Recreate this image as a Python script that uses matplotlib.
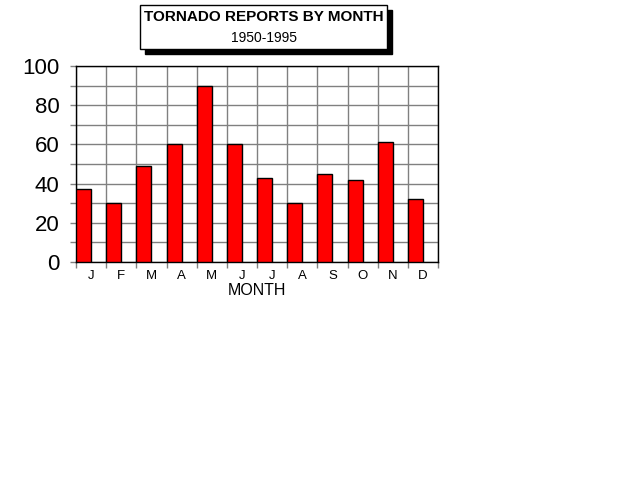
import matplotlib
matplotlib.use("Agg")
import matplotlib.pyplot as plt
from matplotlib.patches import Rectangle

plt.rcParams['font.family'] = ['Liberation Sans', 'DejaVu Sans']

months = ["J", "F", "M", "A", "M", "J", "J", "A", "S", "O", "N", "D"]
reports = [37, 30, 49, 60, 90, 60, 43, 30, 45, 42, 61, 32]
yticks = [0, 20, 40, 60, 80, 100]

fig = plt.figure(figsize=(6.4, 4.8), dpi=100)
ax = fig.add_axes([76 / 640, 1 - 262 / 480, 362 / 640, 196 / 480])

xs = list(range(len(months)))
ax.bar(xs, reports, width=0.5, align="edge", color="#ff0000",
       edgecolor="black", linewidth=1.0, zorder=3)

ax.set_xlim(0, len(months))
ax.set_ylim(0, 100)

# grid: boundaries between months and every 10 units
ax.set_xticks(range(len(months) + 1))
ax.set_xticklabels([])
ax.set_xticks([x + 0.5 for x in xs], minor=True)
ax.set_xticklabels(months, minor=True, fontsize=9.5)
ax.tick_params(axis="x", which="minor", length=0, pad=5.5)
ax.tick_params(axis="x", which="major", length=4.3, width=1, color="#808080")

ax.set_yticks(yticks)
ax.set_yticklabels([str(v) for v in yticks], fontsize=16)
ax.set_yticks(range(10, 100, 20), minor=True)
ax.tick_params(axis="y", which="both", length=4, width=1, color="#808080", pad=8)

ax.grid(True, which="major", axis="x", color="#808080", linewidth=1, zorder=0)
ax.grid(True, which="both", axis="y", color="#808080", linewidth=1, zorder=0)
ax.set_axisbelow(True)
for s in ax.spines.values():
    s.set_color("black")
    s.set_linewidth(1)

ax.set_xlabel("MONTH", fontsize=11.5, labelpad=1)

# title box with drop shadow
W, H = 640, 480
bx0, bx1, by0, by1 = 140, 387, 5, 49
off = 5
fig.patches.append(Rectangle(((bx0 + off) / W, 1 - (by1 + off) / H),
                             (bx1 - bx0) / W, (by1 - by0) / H,
                             transform=fig.transFigure, facecolor="black",
                             edgecolor="black", zorder=1))
fig.patches.append(Rectangle((bx0 / W, 1 - by1 / H),
                             (bx1 - bx0) / W, (by1 - by0) / H,
                             transform=fig.transFigure, facecolor="white",
                             edgecolor="black", linewidth=1, zorder=2))
fig.text((bx0 + bx1) / 2 / W, 1 - 17 / H, "TORNADO REPORTS BY MONTH",
         ha="center", va="center", fontsize=11, fontweight="bold", zorder=3)
fig.text((bx0 + bx1) / 2 / W, 1 - 38.5 / H, "1950-1995",
         ha="center", va="center", fontsize=10, zorder=3)

fig.savefig("out.png", dpi=100)
